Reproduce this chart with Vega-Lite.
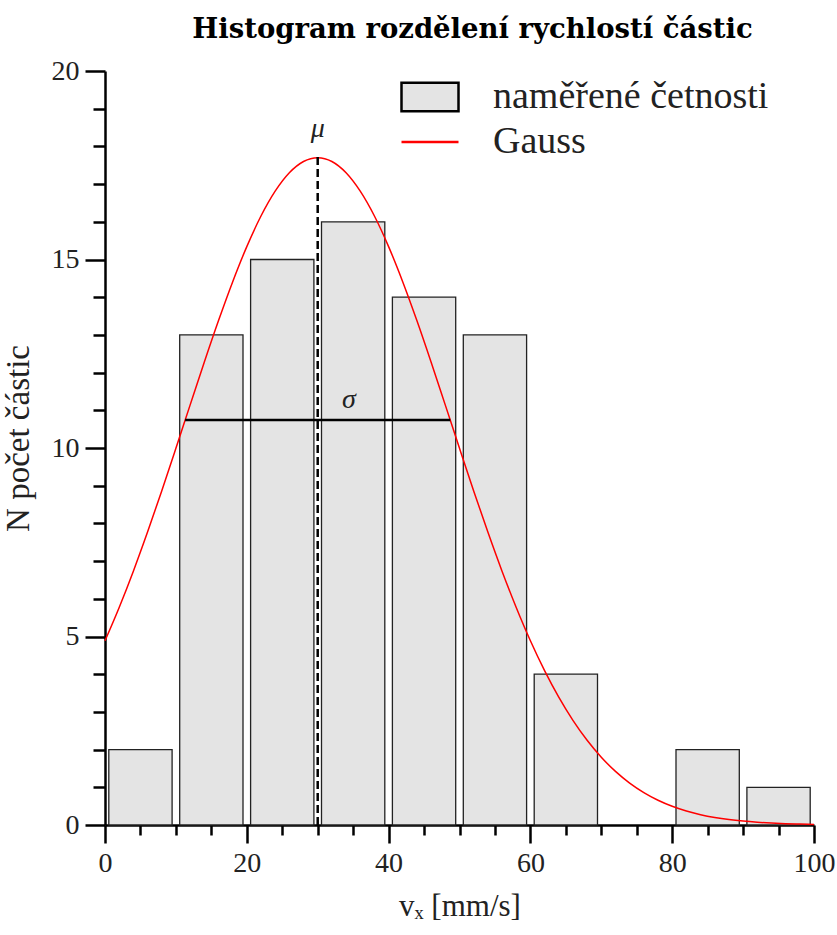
{
  "$schema": "https://vega.github.io/schema/vega-lite/v6.json",
  "width": 709,
  "height": 754,
  "autosize": {"type": "none"},
  "padding": {"left": 105, "top": 71, "right": 23, "bottom": 110},
  "config": {"font": "Liberation Serif", "view": {"stroke": null}},
  "title": {"text": "Histogram rozdělení rychlostí částic", "fontSize": 27.5, "fontWeight": "bold", "font": "DejaVu Serif", "color": "black", "anchor": "middle", "dx": 13, "offset": 14},
  "datasets": {
    "bars": [
      {"od": 0, "do": 10, "n": 2, "s": "naměřené četnosti"},
      {"od": 10, "do": 20, "n": 13, "s": "naměřené četnosti"},
      {"od": 20, "do": 30, "n": 15, "s": "naměřené četnosti"},
      {"od": 30, "do": 40, "n": 16, "s": "naměřené četnosti"},
      {"od": 40, "do": 50, "n": 14, "s": "naměřené četnosti"},
      {"od": 50, "do": 60, "n": 13, "s": "naměřené četnosti"},
      {"od": 60, "do": 70, "n": 4, "s": "naměřené četnosti"},
      {"od": 80, "do": 90, "n": 2, "s": "naměřené četnosti"},
      {"od": 90, "do": 100, "n": 1, "s": "naměřené četnosti"}
    ],
    "gauss": [
      {"v": 0, "f": 4.887, "g": "Gauss"}, {"v": 2, "f": 5.770, "g": "Gauss"}, {"v": 4, "f": 6.733, "g": "Gauss"},
      {"v": 6, "f": 7.769, "g": "Gauss"}, {"v": 8, "f": 8.861, "g": "Gauss"}, {"v": 10, "f": 9.991, "g": "Gauss"},
      {"v": 12, "f": 11.137, "g": "Gauss"}, {"v": 14, "f": 12.275, "g": "Gauss"}, {"v": 16, "f": 13.374, "g": "Gauss"},
      {"v": 18, "f": 14.406, "g": "Gauss"}, {"v": 20, "f": 15.342, "g": "Gauss"}, {"v": 22, "f": 16.153, "g": "Gauss"},
      {"v": 24, "f": 16.812, "g": "Gauss"}, {"v": 26, "f": 17.300, "g": "Gauss"}, {"v": 28, "f": 17.599, "g": "Gauss"},
      {"v": 30, "f": 17.700, "g": "Gauss"}, {"v": 32, "f": 17.599, "g": "Gauss"}, {"v": 34, "f": 17.300, "g": "Gauss"},
      {"v": 36, "f": 16.812, "g": "Gauss"}, {"v": 38, "f": 16.153, "g": "Gauss"}, {"v": 40, "f": 15.342, "g": "Gauss"},
      {"v": 42, "f": 14.406, "g": "Gauss"}, {"v": 44, "f": 13.374, "g": "Gauss"}, {"v": 46, "f": 12.275, "g": "Gauss"},
      {"v": 48, "f": 11.137, "g": "Gauss"}, {"v": 50, "f": 9.991, "g": "Gauss"}, {"v": 52, "f": 8.861, "g": "Gauss"},
      {"v": 54, "f": 7.769, "g": "Gauss"}, {"v": 56, "f": 6.733, "g": "Gauss"}, {"v": 58, "f": 5.770, "g": "Gauss"},
      {"v": 60, "f": 4.887, "g": "Gauss"}, {"v": 62, "f": 4.094, "g": "Gauss"}, {"v": 64, "f": 3.390, "g": "Gauss"},
      {"v": 66, "f": 2.775, "g": "Gauss"}, {"v": 68, "f": 2.246, "g": "Gauss"}, {"v": 70, "f": 1.797, "g": "Gauss"},
      {"v": 72, "f": 1.421, "g": "Gauss"}, {"v": 74, "f": 1.111, "g": "Gauss"}, {"v": 76, "f": 0.859, "g": "Gauss"},
      {"v": 78, "f": 0.656, "g": "Gauss"}, {"v": 80, "f": 0.496, "g": "Gauss"}, {"v": 82, "f": 0.370, "g": "Gauss"},
      {"v": 84, "f": 0.274, "g": "Gauss"}, {"v": 86, "f": 0.200, "g": "Gauss"}, {"v": 88, "f": 0.144, "g": "Gauss"},
      {"v": 90, "f": 0.103, "g": "Gauss"}, {"v": 92, "f": 0.073, "g": "Gauss"}, {"v": 94, "f": 0.051, "g": "Gauss"},
      {"v": 96, "f": 0.035, "g": "Gauss"}, {"v": 98, "f": 0.024, "g": "Gauss"}, {"v": 100, "f": 0.016, "g": "Gauss"}
    ],
    "labels": [
      {"t": "μ", "x": 30, "y": 18.45},
      {"t": "σ", "x": 34.4, "y": 11.27}
    ],
    "mu": [{"x": 30, "y0": 0, "y1": 17.72}],
    "sigma": [{"x1": 11.3, "x2": 48.7, "y": 10.74}]
  },
  "resolve": {"axis": {"x": "independent", "y": "independent"}},
  "layer": [
    {
      "data": {"name": "bars"},
      "mark": {"type": "bar", "stroke": "#222", "strokeWidth": 1.3, "xOffset": 3.8, "x2Offset": -3.8},
      "encoding": {
        "x": {"field": "od", "type": "quantitative", "scale": {"domain": [0, 100], "nice": false, "zero": false, "padding": 0},
          "axis": {"orient": "bottom", "values": [0, 20, 40, 60, 80, 100], "tickSize": 18, "tickWidth": 2.5, "tickColor": "black", "domainWidth": 2.5, "domainColor": "black", "grid": false, "labelFontSize": 28, "labelColor": "#222", "labelPadding": 6, "labelFlush": false, "title": "vₓ [mm/s]", "titleFontSize": 31, "titleFontWeight": "normal", "titleColor": "#222", "titlePadding": 14}},
        "x2": {"field": "do"},
        "y": {"field": "n", "type": "quantitative", "scale": {"domain": [0, 20], "nice": false, "padding": 0},
          "axis": {"orient": "left", "values": [0, 5, 10, 15, 20], "tickSize": 20, "tickWidth": 2.5, "tickColor": "black", "domainWidth": 2.5, "domainColor": "black", "grid": false, "labelFontSize": 28, "labelColor": "#222", "labelPadding": 6, "labelFlush": false, "title": "N počet částic", "titleFontSize": 33, "titleFontWeight": "normal", "titleColor": "#222", "titlePadding": 16, "titleY": 367}},
        "y2": {"datum": 0},
        "fill": {"field": "s", "type": "nominal", "scale": {"range": ["#e4e4e4"]},
          "legend": {"orient": "none", "legendX": 295, "legendY": -4, "title": null, "padding": 0, "symbolType": "M-1,-0.5H1V0.5H-1Z", "symbolSize": 3249, "symbolStrokeColor": "black", "symbolStrokeWidth": 2.5, "symbolOpacity": 1, "labelFontSize": 38, "labelLimit": 0, "labelColor": "#222", "labelOffset": 33}}
      }
    },
    {
      "data": {"name": "gauss"},
      "mark": {"type": "line", "strokeWidth": 1.5, "interpolate": "monotone"},
      "encoding": {
        "x": {"field": "v", "type": "quantitative", "scale": {"domain": [0, 100], "nice": false},
          "axis": {"orient": "bottom", "values": [5, 10, 15, 25, 30, 35, 45, 50, 55, 65, 70, 75, 85, 90, 95], "tickSize": 10, "tickWidth": 2.5, "tickColor": "black", "domain": false, "labels": false, "grid": false, "title": null}},
        "y": {"field": "f", "type": "quantitative", "scale": {"domain": [0, 20], "nice": false},
          "axis": {"orient": "left", "values": [1, 2, 3, 4, 6, 7, 8, 9, 11, 12, 13, 14, 16, 17, 18, 19], "tickSize": 12, "tickWidth": 2.5, "tickColor": "black", "domain": false, "labels": false, "grid": false, "title": null}},
        "stroke": {"field": "g", "type": "nominal", "scale": {"range": ["#ff0000"]},
          "legend": {"orient": "none", "legendX": 295, "legendY": 41, "title": null, "padding": 0, "symbolType": "stroke", "symbolSize": 3249, "symbolStrokeWidth": 2.5, "labelFontSize": 38, "labelLimit": 0, "labelColor": "#222", "labelOffset": 33}}
      }
    },
    {
      "data": {"name": "sigma"},
      "mark": {"type": "rule", "color": "black", "strokeWidth": 2.5},
      "encoding": {
        "x": {"field": "x1", "type": "quantitative", "axis": null},
        "x2": {"field": "x2"},
        "y": {"field": "y", "type": "quantitative", "axis": null}
      }
    },
    {
      "data": {"name": "mu"},
      "mark": {"type": "rule", "color": "black", "strokeWidth": 2.5, "strokeDash": [8, 4]},
      "encoding": {
        "x": {"field": "x", "type": "quantitative", "axis": null},
        "y": {"field": "y0", "type": "quantitative", "axis": null},
        "y2": {"field": "y1"}
      }
    },
    {
      "data": {"name": "labels"},
      "mark": {"type": "text", "fontSize": 28, "fontStyle": "italic", "font": "Liberation Serif", "color": "#222", "baseline": "middle", "align": "center"},
      "encoding": {
        "x": {"field": "x", "type": "quantitative", "axis": null},
        "y": {"field": "y", "type": "quantitative", "axis": null},
        "text": {"field": "t"}
      }
    }
  ]
}
